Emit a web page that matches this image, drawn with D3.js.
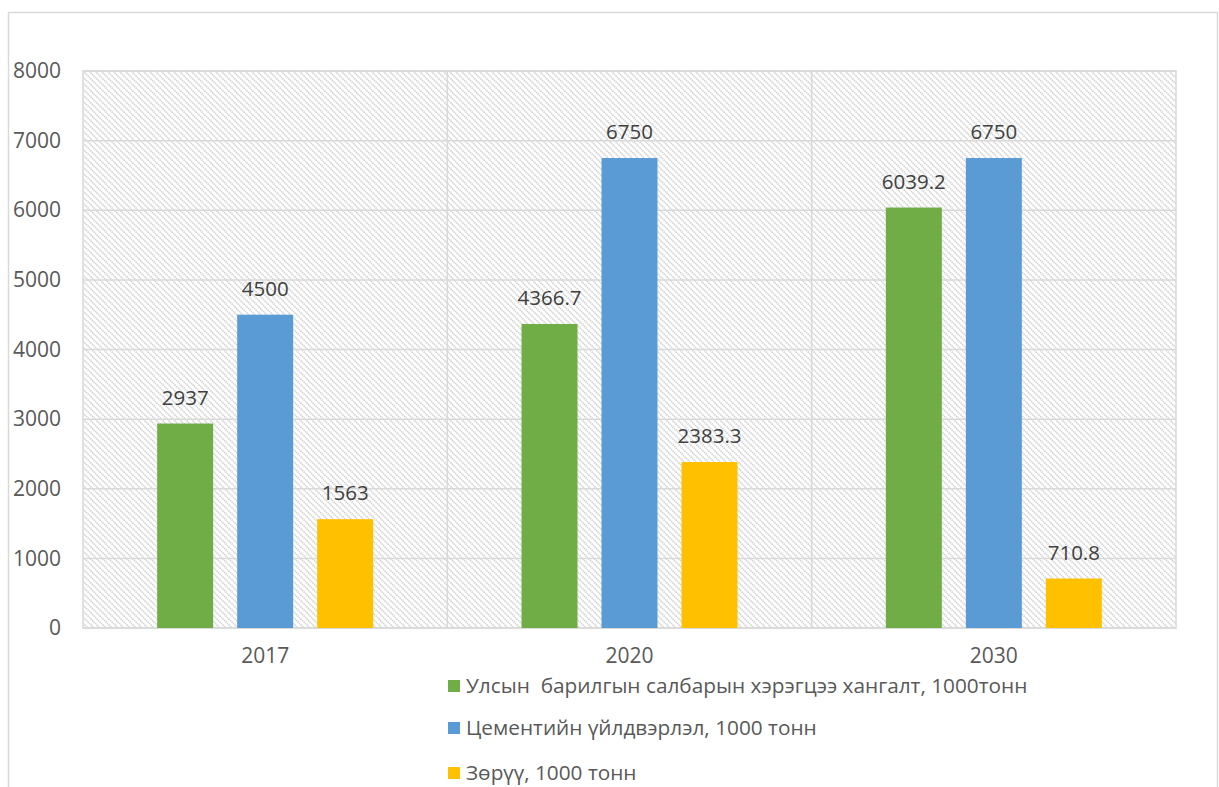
<!DOCTYPE html>
<html>
<head>
<meta charset="utf-8">
<script src="https://cdn.jsdelivr.net/npm/d3@7"></script>
<style>
  html, body { margin: 0; padding: 0; background: #fff; }
  svg { display: block; font-family: "Open Sans", "Noto Sans", sans-serif; }
</style>
</head>
<body>
<svg id="chart" width="1219" height="787"></svg>
<script>
// Years on the category axis
const years = ["2017", "2020", "2030"];

// Series names (legend text)
const seriesNames = [
  "Улсын  барилгын салбарын хэрэгцээ хангалт, 1000тонн",
  "Цементийн үйлдвэрлэл, 1000 тонн",
  "Зөрүү, 1000 тонн"
];

// Values per series, one per year
const demand = [2937, 4366.7, 6039.2];
const cement = [4500, 6750, 6750];
const balance = [1563, 2383.3, 710.8];

// Printed labels for each series
const demandLabels = ["2937", "4366.7", "6039.2"];
const cementLabels = ["4500", "6750", "6750"];
const balanceLabels = ["1563", "2383.3", "710.8"];

// Value-axis ticks
const yTicks = [0, 1000, 2000, 3000, 4000, 5000, 6000, 7000, 8000];

const colors = ["#70AD47", "#5B9BD5", "#FFC000"];

const series = [
  { name: seriesNames[0], values: demand, labels: demandLabels, color: colors[0] },
  { name: seriesNames[1], values: cement, labels: cementLabels, color: colors[1] },
  { name: seriesNames[2], values: balance, labels: balanceLabels, color: colors[2] }
];

const svg = d3.select("#chart");

// Outer chart frame
svg.append("rect")
  .attr("x", 8.5).attr("y", 12.5)
  .attr("width", 1209).attr("height", 800)
  .attr("fill", "#fff")
  .attr("stroke", "#d9d9d9").attr("stroke-width", 1.5);

const plot = { left: 83, right: 1176, top: 71, bottom: 628 };

// Diagonal hatch fill for the plot area
const defs = svg.append("defs");
const pat = defs.append("pattern")
  .attr("id", "hatch")
  .attr("patternUnits", "userSpaceOnUse")
  .attr("width", 6).attr("height", 6);
pat.append("rect").attr("width", 6).attr("height", 6).attr("fill", "#fff");
pat.append("path")
  .attr("d", "M-1,-1 L7,7 M-1,5 L1,7 M5,-1 L7,1")
  .attr("stroke", "#d2d2d2").attr("stroke-width", 1.7)
  .attr("stroke-dasharray", "1.4,0.8");

svg.append("rect")
  .attr("x", plot.left).attr("y", plot.top)
  .attr("width", plot.right - plot.left).attr("height", plot.bottom - plot.top)
  .attr("fill", "url(#hatch)")
  .attr("stroke", "#d9d9d9").attr("stroke-width", 1.5);

const x0 = d3.scaleBand()
  .domain(years)
  .range([plot.left, plot.right])
  .paddingInner(0).paddingOuter(0);

const barW = 56, barStep = 80;
const x1 = d3.scaleBand()
  .domain(d3.range(series.length))
  .range([-barStep * 1.5, barStep * 1.5])
  .paddingInner((barStep - barW) / barStep)
  .paddingOuter((barStep - barW) / barStep / 2);

const y = d3.scaleLinear()
  .domain([0, 8000])
  .range([plot.bottom, plot.top]);

// Horizontal gridlines
svg.append("g")
  .selectAll("line")
  .data(yTicks)
  .join("line")
  .attr("x1", plot.left).attr("x2", plot.right)
  .attr("y1", d => y(d)).attr("y2", d => y(d))
  .attr("stroke", "#d9d9d9").attr("stroke-width", 1.5);

// Vertical gridlines between categories
svg.append("g")
  .selectAll("line")
  .data(years.slice(1))
  .join("line")
  .attr("x1", d => x0(d)).attr("x2", d => x0(d))
  .attr("y1", plot.top).attr("y2", plot.bottom)
  .attr("stroke", "#d9d9d9").attr("stroke-width", 1.5);

// Y axis labels
const yAxis = d3.axisLeft(y).tickValues(yTicks).tickSize(0).tickPadding(0)
  .tickFormat(d3.format("d"));
const yg = svg.append("g")
  .attr("transform", `translate(${plot.left - 22},0)`)
  .call(yAxis);
yg.select(".domain").remove();
yg.selectAll("text")
  .attr("fill", "#595959")
  .attr("font-size", 21)
  .attr("font-family", "Open Sans, sans-serif");

// X axis labels
const xAxis = d3.axisBottom(x0).tickSize(0).tickPadding(0);
const xg = svg.append("g")
  .attr("transform", `translate(0,${plot.bottom + 20})`)
  .call(xAxis);
xg.select(".domain").remove();
xg.selectAll("text")
  .attr("fill", "#595959")
  .attr("font-size", 21)
  .attr("font-family", "Open Sans, sans-serif");

// Bars
const groups = svg.append("g")
  .selectAll("g")
  .data(years)
  .join("g")
  .attr("transform", d => `translate(${x0(d) + x0.bandwidth() / 2},0)`);

groups.each(function (year, yi) {
  const g = d3.select(this);
  series.forEach((s, si) => {
    const v = s.values[yi];
    g.append("rect")
      .attr("x", x1(si))
      .attr("width", x1.bandwidth())
      .attr("y", y(v))
      .attr("height", y(0) - y(v))
      .attr("fill", s.color);
    g.append("text")
      .attr("x", x1(si) + x1.bandwidth() / 2)
      .attr("y", y(v) - 19)
      .attr("text-anchor", "middle")
      .attr("fill", "#404040")
      .attr("font-size", 20.5)
      .text(s.labels[yi]);
  });
});

// Legend
const legendRows = [686, 728, 773];
const legend = svg.append("g");
series.forEach((s, i) => {
  legend.append("rect")
    .attr("x", 448).attr("y", legendRows[i] - 6)
    .attr("width", 12).attr("height", 12)
    .attr("fill", s.color);
  legend.append("text")
    .attr("x", 466).attr("y", legendRows[i])
    .attr("dy", "0.35em")
    .attr("fill", "#595959")
    .attr("font-size", 20.8)
    .style("white-space", "pre")
    .text(s.name);
});
</script>
</body>
</html>
